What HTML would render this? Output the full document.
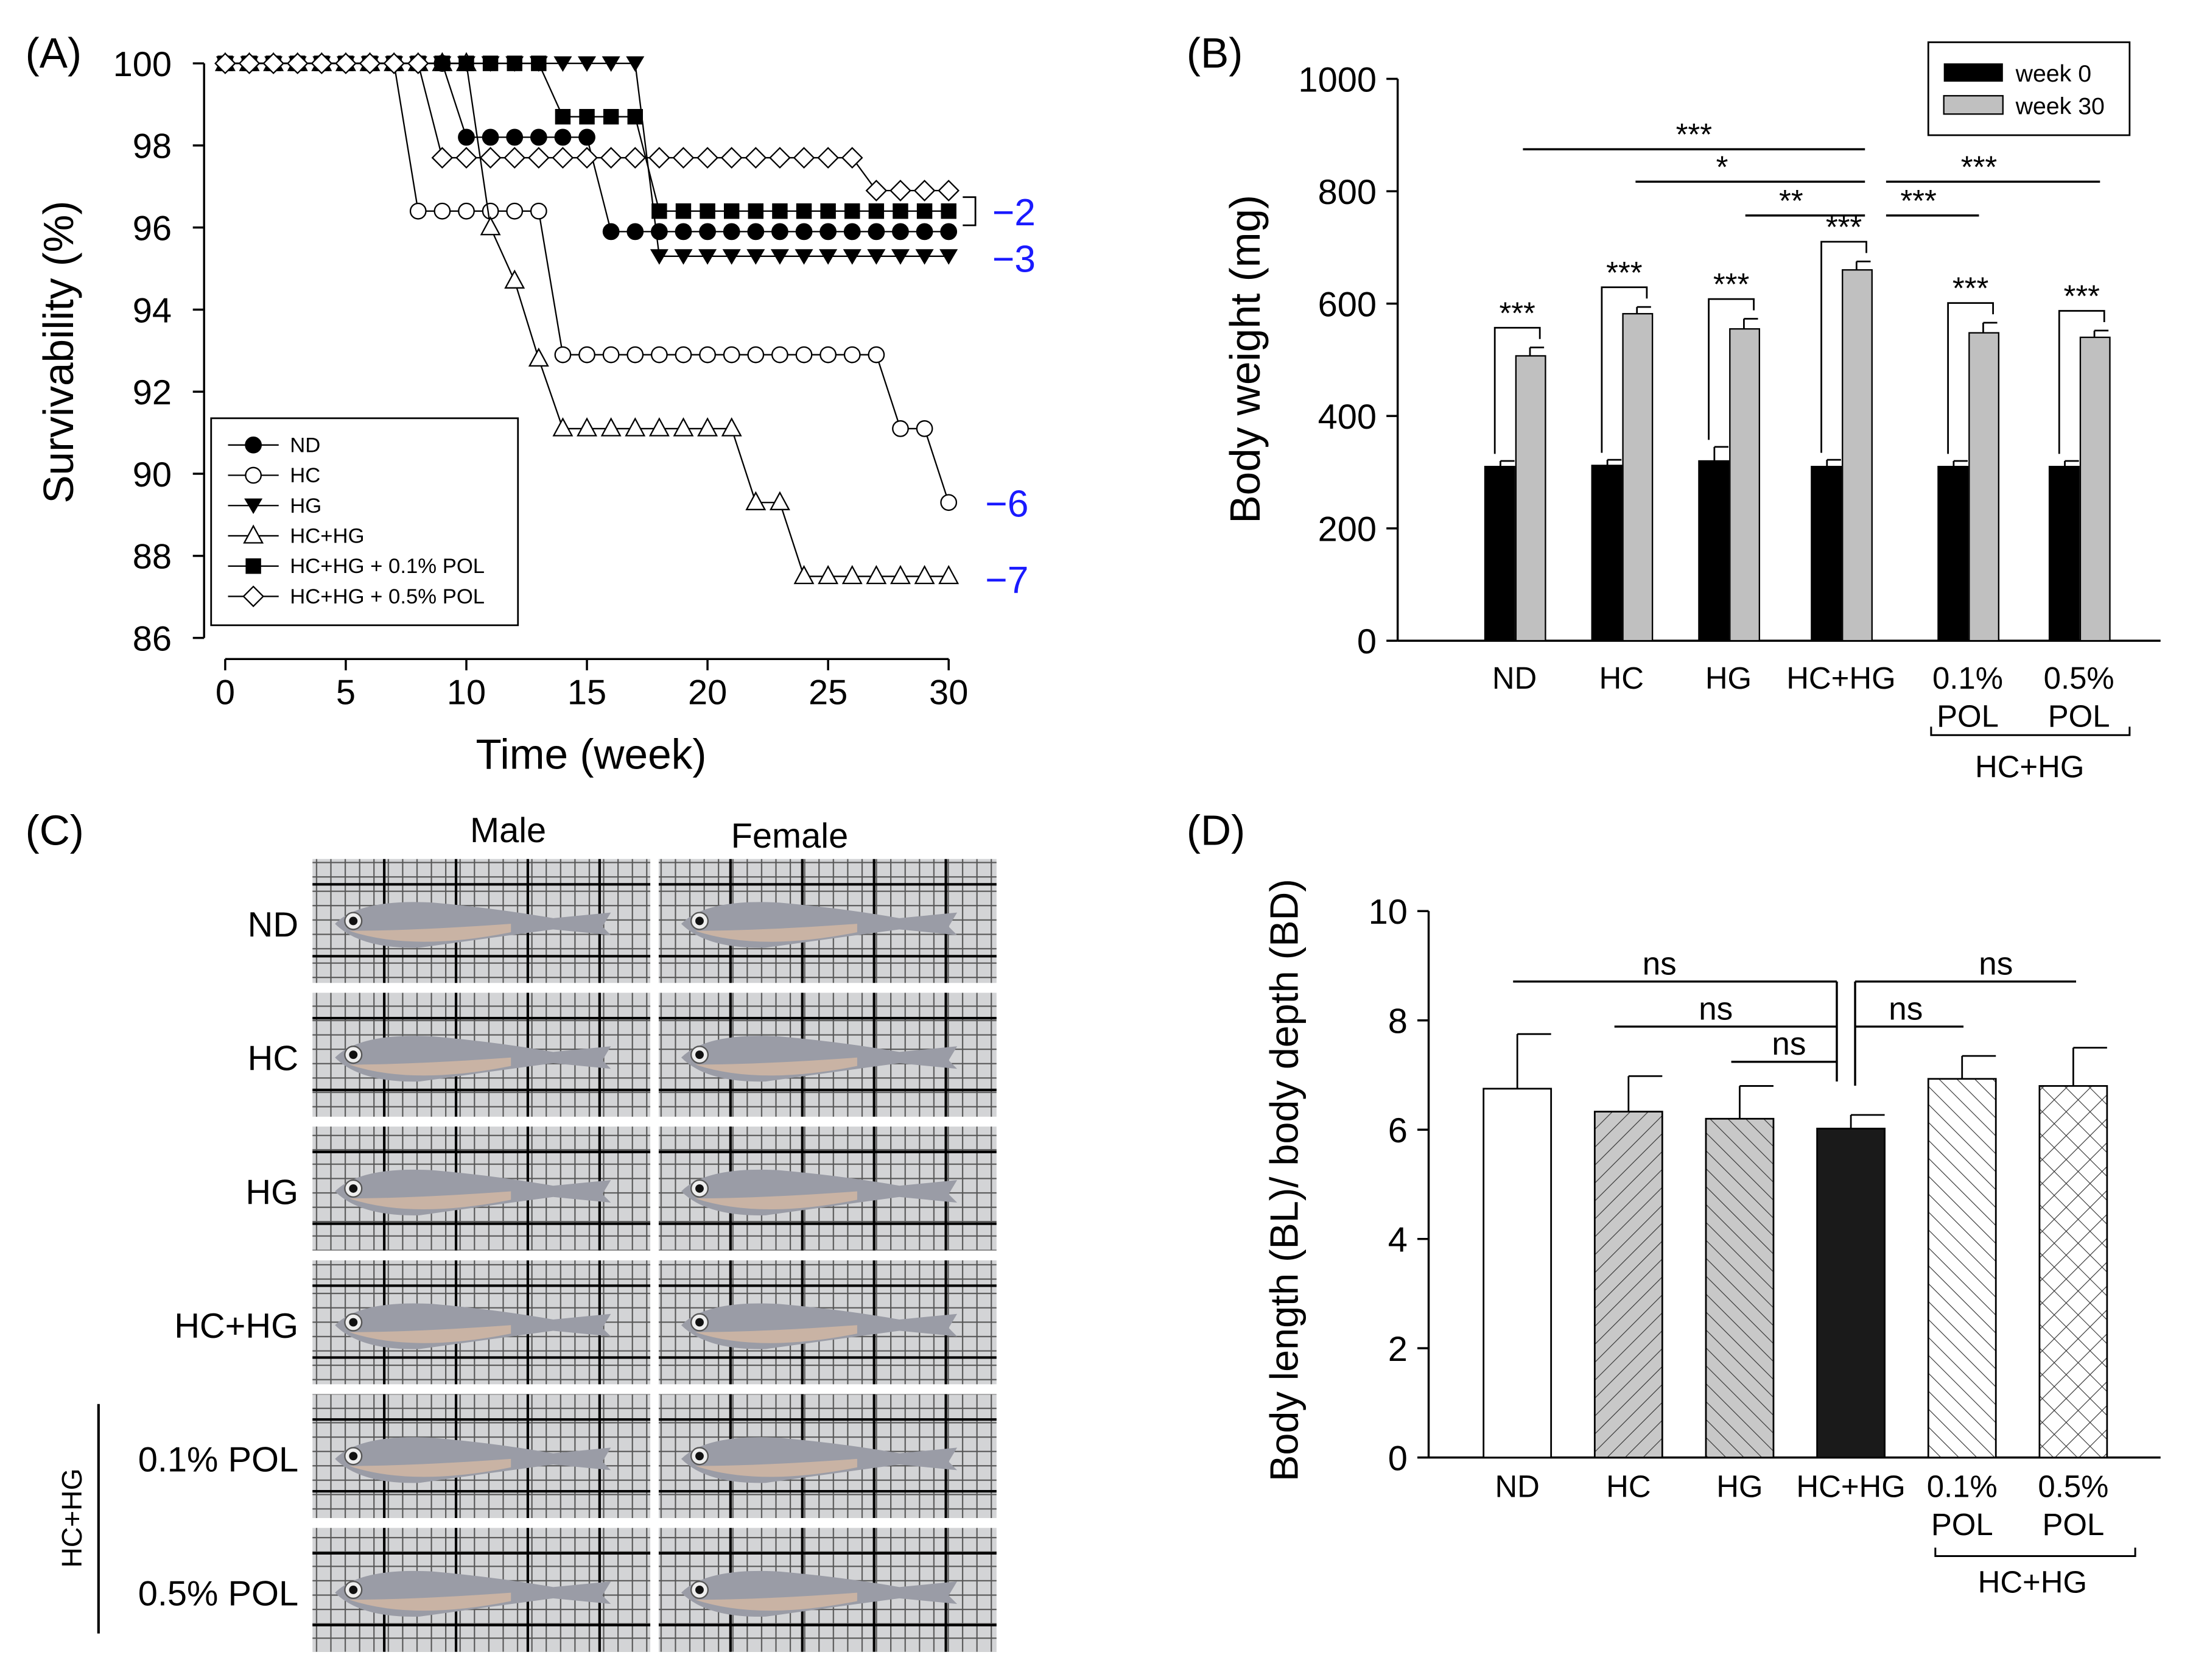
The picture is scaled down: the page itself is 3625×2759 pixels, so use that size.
<!DOCTYPE html>
<html><head><meta charset="utf-8"><style>
html,body{margin:0;padding:0;background:#fff}
svg{display:block}
text{font-family:"Liberation Sans",Arial,sans-serif}
</style></head><body>
<svg id="fig" width="3625" height="2759" viewBox="0 0 1568 1193" preserveAspectRatio="none" xmlns="http://www.w3.org/2000/svg">
<defs>
<pattern id="paper" width="10.2" height="10.2" patternUnits="userSpaceOnUse">
<rect width="10.2" height="10.2" fill="#d3d4d6"/>
<path d="M0 0.5H10.2M0.5 0V10.2" stroke="#555" stroke-width="0.9"/>
</pattern>
<pattern id="diagR" width="9" height="9" patternUnits="userSpaceOnUse" patternTransform="rotate(45)"><rect width="9" height="9" fill="#c8c8c8"/><line x1="0" y1="0" x2="0" y2="9" stroke="#333" stroke-width="1"/></pattern>
<pattern id="diagL" width="9" height="9" patternUnits="userSpaceOnUse" patternTransform="rotate(-45)"><rect width="9" height="9" fill="#c8c8c8"/><line x1="0" y1="0" x2="0" y2="9" stroke="#333" stroke-width="1"/></pattern>
<pattern id="diagW" width="9" height="9" patternUnits="userSpaceOnUse" patternTransform="rotate(-45)"><rect width="9" height="9" fill="#fff"/><line x1="0" y1="0" x2="0" y2="9" stroke="#333" stroke-width="1"/></pattern>
<pattern id="cross" width="12" height="12" patternUnits="userSpaceOnUse" patternTransform="rotate(45)"><rect width="12" height="12" fill="#fff"/><path d="M0 0V12M0 0H12" stroke="#333" stroke-width="1"/></pattern>
</defs>
<g id="A"></g>
<g id="B"></g>
<g id="C"></g>
<g id="D"></g>
</svg>
<script>
// Panel A data
const weeks = [0,1,2,3,4,5,6,7,8,9,10,11,12,13,14,15,16,17,18,19,20,21,22,23,24,25,26,27,28,29,30];
const seriesNames = ["ND","HC","HG","HC+HG","HC+HG + 0.1% POL","HC+HG + 0.5% POL"];
const survND = [100,100,100,100,100,100,100,100,100,100,98.2,98.2,98.2,98.2,98.2,98.2,95.9,95.9,95.9,95.9,95.9,95.9,95.9,95.9,95.9,95.9,95.9,95.9,95.9,95.9,95.9];
const survHC = [100,100,100,100,100,100,100,100,96.4,96.4,96.4,96.4,96.4,96.4,92.9,92.9,92.9,92.9,92.9,92.9,92.9,92.9,92.9,92.9,92.9,92.9,92.9,92.9,91.1,91.1,89.3];
const survHG = [100,100,100,100,100,100,100,100,100,100,100,100,100,100,100,100,100,100,95.3,95.3,95.3,95.3,95.3,95.3,95.3,95.3,95.3,95.3,95.3,95.3,95.3];
const survHCHG = [100,100,100,100,100,100,100,100,100,100,100,96.0,94.7,92.8,91.1,91.1,91.1,91.1,91.1,91.1,91.1,91.1,89.3,89.3,87.5,87.5,87.5,87.5,87.5,87.5,87.5];
const survPOL1 = [100,100,100,100,100,100,100,100,100,100,100,100,100,100,98.7,98.7,98.7,98.7,96.4,96.4,96.4,96.4,96.4,96.4,96.4,96.4,96.4,96.4,96.4,96.4,96.4];
const survPOL5 = [100,100,100,100,100,100,100,100,100,97.7,97.7,97.7,97.7,97.7,97.7,97.7,97.7,97.7,97.7,97.7,97.7,97.7,97.7,97.7,97.7,97.7,97.7,96.9,96.9,96.9,96.9];
const aXTicks = [0,5,10,15,20,25,30];
const aYTicks = [86,88,90,92,94,96,98,100];
// Panel B data
const bGroups = ["ND","HC","HG","HC+HG","0.1%","0.5%"];
const bWeek0 = [310,312,320,310,310,310];
const bWeek0Err = [10,10,25,12,10,10];
const bWeek30 = [507,582,555,660,548,540];
const bWeek30Err = [15,12,18,15,18,12];
const bYTicks = [0,200,400,600,800,1000];
// Panel D data
const dGroups = ["ND","HC","HG","HC+HG","0.1%","0.5%"];
const dValues = [6.75,6.33,6.2,6.02,6.93,6.8];
const dErr = [1.0,0.65,0.6,0.25,0.42,0.7];
const dYTicks = [0,2,4,6,8,10];
const photoRows = ["ND","HC","HG","HC+HG","0.1% POL","0.5% POL"];

const NS="http://www.w3.org/2000/svg";
function mk(parent,tag,attrs,txt){const e=document.createElementNS(NS,tag);for(const k in attrs)e.setAttribute(k,attrs[k]);if(txt!==undefined)e.textContent=txt;parent.appendChild(e);return e;}
function line(p,x1,y1,x2,y2,w){return mk(p,"line",{x1,y1,x2,y2,stroke:"#000","stroke-width":w||1.3});}

// ---------- Panel A ----------
const A=document.getElementById("A");
const ax=v=>160+v*(674-160)/30, ay=v=>45+(100-v)*(453-45)/14;
let t=mk(A,"text",{x:18,y:48,"font-size":30},"(A)");


let yl=mk(A,"line",{x1:145,y1:ay(100),x2:145,y2:ay(86),stroke:"#000","stroke-width":1.5});


aYTicks.forEach(v=>{line(A,137,ay(v),145,ay(v),1.5);
 const e=mk(A,"text",{x:122,y:ay(v)+9,"font-size":25,"text-anchor":"end"},String(v));
 
 });
let xl=mk(A,"line",{x1:ax(0),y1:468,x2:ax(30),y2:468,stroke:"#000","stroke-width":1.5});


aXTicks.forEach(v=>{line(A,ax(v),468,ax(v),476,1.5);
 const e=mk(A,"text",{x:ax(v),y:500,"font-size":25,"text-anchor":"middle"},String(v));
 
 });
t=mk(A,"text",{x:420,y:546,"font-size":30,"text-anchor":"middle"},"Time (week)");


t=mk(A,"text",{x:0,y:0,"font-size":30,"text-anchor":"middle",transform:"translate(52,250) rotate(-90)"},"Survivability (%)");



function marker(p,type,x,y){
 const s=6.5;
 if(type==="fc")return mk(p,"circle",{cx:x,cy:y,r:5.5,fill:"#000",stroke:"#000"});
 if(type==="oc")return mk(p,"circle",{cx:x,cy:y,r:5.5,fill:"#fff",stroke:"#000","stroke-width":1});
 if(type==="td")return mk(p,"polygon",{points:`${x-s},${y-5} ${x+s},${y-5} ${x},${y+6}`,fill:"#000"});
 if(type==="tu")return mk(p,"polygon",{points:`${x-s},${y+5} ${x+s},${y+5} ${x},${y-7}`,fill:"#fff",stroke:"#000","stroke-width":1});
 if(type==="sq")return mk(p,"rect",{x:x-5.5,y:y-5.5,width:11,height:11,fill:"#000"});
 if(type==="di")return mk(p,"polygon",{points:`${x},${y-7} ${x+7},${y} ${x},${y+7} ${x-7},${y}`,fill:"#fff",stroke:"#000","stroke-width":1});
}
const seriesData=[survHC,survHCHG,survND,survHG,survPOL1,survPOL5];
const seriesMk=["oc","tu","fc","td","sq","di"];
const seriesKey=["hc","hc-hg","nd","hg","pol-0.1","pol-0.5"];
seriesData.forEach((arr,si)=>{
 const g=mk(A,"g",{});
 
 
 mk(g,"polyline",{points:arr.map((v,i)=>ax(weeks[i])+","+ay(v)).join(" "),fill:"none",stroke:"#000","stroke-width":1});
 arr.forEach((v,i)=>{const m=marker(g,seriesMk[si],ax(weeks[i]),ay(v));
  
  });
});
// legend
const lg=mk(A,"g",{});


mk(lg,"rect",{x:150,y:297,width:218,height:147,fill:"#fff",stroke:"#000","stroke-width":1.2});
const legMk=["fc","oc","td","tu","sq","di"];
seriesNames.forEach((n,i)=>{const y=316+i*21.5;
 const le=mk(lg,"g",{});
 
 
 line(le,162,y,198,y,1);marker(le,legMk[i],180,y);
 mk(le,"text",{x:206,y:y+5,"font-size":15},n);});
// annotations
mk(A,"path",{d:"M684 140H693V160H684",fill:"none",stroke:"#000","stroke-width":1.2});
[["−2",160],["−3",193],["−6",367],["−7",421]].forEach(([s,y],i)=>{
 const e=mk(A,"text",{x:i<2?705:700,y:y,"font-size":27,fill:"#1a1aff"},s);
 
 });

// ---------- Panel B ----------
const B=document.getElementById("B");
const by=v=>455-v*(455-56)/1000;
const bCenters=[1076,1152,1228,1308,1398,1477];
t=mk(B,"text",{x:843,y:48,"font-size":30},"(B)");


line(B,993,by(1000),993,455,1.5);line(B,993,455,1535,455,1.5);
bYTicks.forEach(v=>{line(B,985,by(v),993,by(v),1.5);
 const e=mk(B,"text",{x:978,y:by(v)+9,"font-size":25,"text-anchor":"end"},String(v));
 
 });
t=mk(B,"text",{x:0,y:0,"font-size":30,"text-anchor":"middle",transform:"translate(895,255) rotate(-90)"},"Body weight (mg)");


bGroups.forEach((gname,i)=>{const c=bCenters[i];
 const r0=mk(B,"rect",{x:c-21,y:by(bWeek0[i]),width:21,height:455-by(bWeek0[i]),fill:"#000",stroke:"#000"});
 
 
 const r1=mk(B,"rect",{x:c+1,y:by(bWeek30[i]),width:21,height:455-by(bWeek30[i]),fill:"#c0c0c0",stroke:"#000"});
 
 
 const e0=by(bWeek0[i]+bWeek0Err[i]);line(B,c-10,by(bWeek0[i]),c-10,e0,1.2);line(B,c-10,e0,c,e0,1.2);
 const e1=by(bWeek30[i]+bWeek30Err[i]);line(B,c+11,by(bWeek30[i]),c+11,e1,1.2);line(B,c+11,e1,c+21,e1,1.2);
 const top=e1-14;
 mk(B,"path",{d:`M${c-14} ${e0-5}V${top}H${c+18}V${top+8}`,fill:"none",stroke:"#000","stroke-width":1.2});
 const s=mk(B,"text",{x:c+2,y:top-3,"font-size":22,"text-anchor":"middle"},"***");
 
 
 const lb=mk(B,"text",{x:c,y:489,"font-size":22,"text-anchor":"middle"},gname);
 
 
 if(i>=4){const l2=mk(B,"text",{x:c,y:516,"font-size":22,"text-anchor":"middle"},"POL");
  
  }
});
[[1082,1325,106,"***"],[1162,1325,129,"*"],[1240,1325,153,"**"],[1340,1492,129,"***"],[1340,1406,153,"***"]].forEach(([x1,x2,y,s])=>{
 line(B,x1,y,x2,y,1.5);
 const e=mk(B,"text",{x:(x1+x2)/2+(s==="*"?-20:(x1===1082?0:-10)),y:y-3,"font-size":22,"text-anchor":"middle"},s);
 
 });
mk(B,"path",{d:"M1372 516V522H1513V516",fill:"none",stroke:"#000","stroke-width":1.3});
t=mk(B,"text",{x:1442,y:552,"font-size":22,"text-anchor":"middle"},"HC+HG");


const bl=mk(B,"g",{});


mk(bl,"rect",{x:1370,y:30,width:143,height:66,fill:"#fff",stroke:"#000","stroke-width":1.2});
mk(bl,"rect",{x:1381,y:45,width:42,height:13,fill:"#000"});
mk(bl,"rect",{x:1381,y:68,width:42,height:13,fill:"#c0c0c0",stroke:"#000"});
mk(bl,"text",{x:1432,y:58,"font-size":17},"week 0");
mk(bl,"text",{x:1432,y:81,"font-size":17},"week 30");

// ---------- Panel C ----------
const C=document.getElementById("C");
t=mk(C,"text",{x:18,y:600,"font-size":30},"(C)");


t=mk(C,"text",{x:361,y:598,"font-size":25,"text-anchor":"middle"},"Male");


t=mk(C,"text",{x:561,y:602,"font-size":25,"text-anchor":"middle"},"Female");


const rowY=[610,705,800,895,990,1085];
photoRows.forEach((r,i)=>{const y=rowY[i];
 [222,468].forEach((x,j)=>{
  const g=mk(C,"g",{});
  
  
  mk(g,"rect",{x,y,width:240,height:88,fill:"url(#paper)"});
  for(let k=1;k<5;k++){line(g,x+k*51,y,x+k*51,y+88,1.8);}
  line(g,x,y+18,x+240,y+18,1.8);line(g,x,y+69,x+240,y+69,1.8);
  const fy=y+46, fx=x+16;
  mk(g,"path",{d:`M${fx} ${fy} Q${fx+18} ${fy-18} ${fx+70} ${fy-15} Q${fx+115} ${fy-11} ${fx+155} ${fy-4} L${fx+196} ${fy-8} L${fx+190} ${fy+2} L${fx+196} ${fy+8} L${fx+155} ${fy+4} Q${fx+110} ${fy+10} ${fx+60} ${fy+17} Q${fx+18} ${fy+18} ${fx} ${fy} Z`,fill:"#9a9ca6",stroke:"none"});
  mk(g,"path",{d:`M${fx+10} ${fy+5} Q${fx+55} ${fy+20} ${fx+125} ${fy+6} L${fx+125} ${fy} Q${fx+55} ${fy+5} ${fx+10} ${fy+5}Z`,fill:"#c9b3a4"});
  mk(g,"circle",{cx:fx+13,cy:fy-2,r:6,fill:"#eee",stroke:"#555"});
  mk(g,"circle",{cx:fx+13,cy:fy-2,r:3,fill:"#111"});
 });
 const lb=mk(C,"text",{x:212,y:y+55,"font-size":25,"text-anchor":"end"},r);
 
 
});
line(C,70,997,70,1160,1.8);
t=mk(C,"text",{x:0,y:0,"font-size":20,"text-anchor":"middle",transform:"translate(58,1078) rotate(-90)"},"HC+HG");



// ---------- Panel D ----------
const D=document.getElementById("D");
const dy=v=>1035-v*(1035-647)/10;
const dCenters=[1078,1157,1236,1315,1394,1473];
const dFills=["#fff","url(#diagR)","url(#diagL)","#1a1a1a","url(#diagW)","url(#cross)"];
t=mk(D,"text",{x:843,y:600,"font-size":30},"(D)");


line(D,1015,dy(10),1015,1035,1.5);line(D,1015,1035,1535,1035,1.5);
dYTicks.forEach(v=>{line(D,1007,dy(v),1015,dy(v),1.5);
 const e=mk(D,"text",{x:1000,y:dy(v)+9,"font-size":25,"text-anchor":"end"},String(v));
 
 });
t=mk(D,"text",{x:0,y:0,"font-size":28,"text-anchor":"middle",transform:"translate(922,838) rotate(-90)"},"Body length (BL)/ body depth (BD)");


dGroups.forEach((gname,i)=>{const c=dCenters[i];
 const r=mk(D,"rect",{x:c-24,y:dy(dValues[i]),width:48,height:1035-dy(dValues[i]),fill:dFills[i],stroke:"#000","stroke-width":1.2});
 
 
 const e=dy(dValues[i]+dErr[i]);line(D,c,dy(dValues[i]),c,e,1.2);line(D,c,e,c+24,e,1.2);
 const lb=mk(D,"text",{x:c,y:1063,"font-size":22,"text-anchor":"middle"},gname);
 
 
 if(i>=4){const l2=mk(D,"text",{x:c,y:1090,"font-size":22,"text-anchor":"middle"},"POL");
  
  }
});
[[1075,1305,697,1179],[1147,1305,729,1219],[1230,1305,754,1271],[1318,1475,697,1418],[1318,1395,729,1354]].forEach(([x1,x2,y,tx])=>{
 line(D,x1,y,x2,y,1.5);
 const e=mk(D,"text",{x:tx,y:y-5,"font-size":23,"text-anchor":"middle"},"ns");
 
 });
line(D,1305,697,1305,768,1.5);line(D,1318,697,1318,771,1.5);
mk(D,"path",{d:"M1375 1099V1105H1517V1099",fill:"none",stroke:"#000","stroke-width":1.3});
t=mk(D,"text",{x:1444,y:1131,"font-size":22,"text-anchor":"middle"},"HC+HG");


</script>
</body></html>
